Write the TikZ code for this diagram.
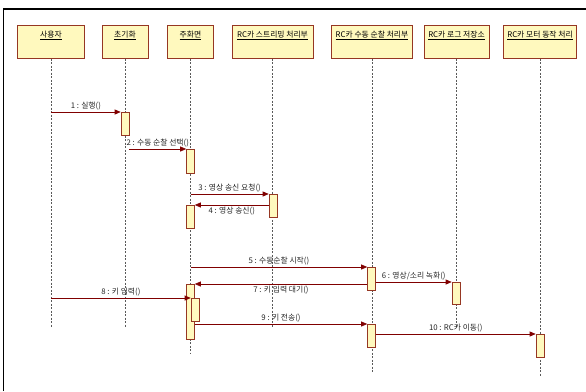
\documentclass[tikz,border=0pt]{standalone}
\usepackage{fontspec}
\setmainfont{Noto Sans CJK KR}
\usetikzlibrary{arrows.meta}
\definecolor{boxfill}{RGB}{255,249,190}
\definecolor{boxline}{RGB}{150,55,35}
\definecolor{msgred}{RGB}{128,0,0}
\begin{document}
\begin{tikzpicture}[x=1pt, y=-1pt,
    objbox/.style={draw=boxline, fill=boxfill, line width=0.6pt, anchor=north,
      minimum height=33pt, inner ysep=3pt, text height=9pt, text depth=18pt,
      font=\fontsize{7.8}{9}\selectfont},
    act/.style={draw=boxline, fill=boxfill, line width=0.6pt, anchor=north,
      minimum width=8pt, inner sep=0pt},
    lifeline/.style={gray!70!black, dashed, dash pattern=on 2pt off 1.5pt, line width=0.5pt},
    msg/.style={msgred, line width=0.7pt, -{Triangle[length=6pt, width=5pt]}},
    lbl/.style={font=\fontsize{7.8}{9}\selectfont, black!85, midway, inner sep=2pt}]
    \useasboundingbox (0,0) rectangle (586,391);

    % Moldura
    \draw[line width=1.3pt] (3.5,391) -- (3.5,9) -- (586,9);

    % Objetos
    \node[objbox, minimum width=67pt] (h1) at (51,25) {\underline{사용자}};
    \node[objbox, minimum width=46pt] (h2) at (125,25) {\underline{초기화}};
    \node[objbox, minimum width=46pt] (h3) at (190.5,25) {\underline{주화면}};
    \node[objbox, minimum width=81pt] (h4) at (272.5,25) {\underline{RC카 스트리밍 처리부}};
    \node[objbox, minimum width=81pt] (h5) at (372,25) {\underline{RC카 수동 순찰 처리부}};
    \node[objbox, minimum width=65pt] (h6) at (456.5,25) {\underline{RC카 로그 저장소}};
    \node[objbox, minimum width=73pt] (h7) at (540,25) {\underline{RC카 모터 동작 처리}};

    % Linhas de vida
    \draw[lifeline] (h1.south) -- (h1.south |- 0,327);
    \draw[lifeline] (h2.south) -- (h2.south |- 0,327);
    \draw[lifeline] (h3.south) -- (h3.south |- 0,353);
    \draw[lifeline] (h4.south) -- (h4.south |- 0,327);
    \draw[lifeline] (h5.south) -- (h5.south |- 0,372);
    \draw[lifeline] (h6.south) -- (h6.south |- 0,327);
    \draw[lifeline] (h7.south) -- (h7.south |- 0,377);

    % Ativações
    \node[act, minimum height=23pt] (a2) at (125,112) {};
    \node[act, minimum height=24pt] (a3a) at (190.5,149) {};
    \node[act, minimum height=23pt] (a4) at (273,194) {};
    \node[act, minimum height=23pt] (a3b) at (190.5,205) {};
    \node[act, minimum height=23pt] (a5a) at (371.5,267) {};
    \node[act, minimum height=22pt] (a6) at (456,282) {};
    \node[act, minimum height=55pt] (a3c) at (190.5,284) {};
    \node[act, minimum height=23pt] (a3d) at (195,298) {};
    \node[act, minimum height=23pt] (a5b) at (371.5,324) {};
    \node[act, minimum height=23pt] (a7) at (540,334) {};

    % Mensagens
    \draw[msg] (h1 |- a2.north) -- (a2.north west) node[lbl, above] (m1) {1 : 실행()};
    \draw[msg] (a2.east |- a3a.north) -- (a3a.north west) node[lbl, above] (m2) {2 : 수동 순찰 선택()};
    \draw[msg] (h3 |- a4.north) -- (a4.north west) node[lbl, above] (m3) {3 : 영상 송신 요청()};
    \draw[msg] (a4.west |- a3b.north) -- (a3b.north east) node[lbl, below] (m4) {4 : 영상 송신()};
    \draw[msg] (h3 |- a5a.north) -- (a5a.north west) node[lbl, above] (m5) {5 : 수동순찰 시작()};
    \draw[msg] (a5a.east |- a6.north) -- (a6.north west) node[lbl, above] (m6) {6 : 영상/소리 녹화()};
    \draw[msg] (a5a.west |- a3c.north) -- (a3c.north east) node[lbl, below] (m7) {7 : 키 입력 대기()};
    \draw[msg] (h1 |- a3d.north) -- (a3d.north west) node[lbl, above] (m8) {8 : 키 입력()};
    \draw[msg] (a3c.east |- a5b.north) -- (a5b.north west) node[lbl, above] (m9) {9 : 키 전송()};
    \draw[msg] (a5b.east |- a7.north) -- (a7.north west) node[lbl, above] (m10) {10 : RC카 이동()};
\end{tikzpicture}
\end{document}
